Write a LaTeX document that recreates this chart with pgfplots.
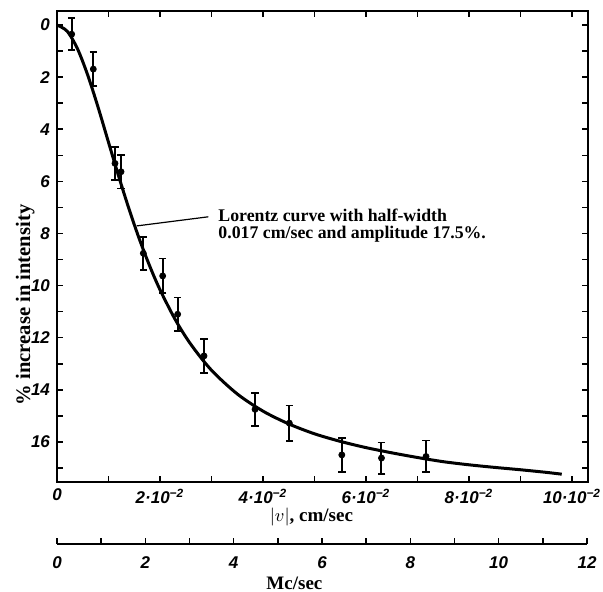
\documentclass[border=0pt]{standalone}
\usepackage{fontspec}
\setmainfont{Liberation Serif}
\newfontfamily\tickfamily{Liberation Sans}
\usepackage{pgfplots}
\pgfplotsset{compat=1.18}

\newcommand{\tickfont}{\tickfamily\bfseries\itshape\fontsize{8.5}{8.5}\selectfont}
\newcommand{\labfont}{\bfseries\fontsize{9.5}{10}\selectfont}
\newcommand{\ylabfont}{\bfseries\fontsize{10.3}{11}\selectfont}
\newcommand{\annfont}{\bfseries\fontsize{8.9}{9}\selectfont}

% Lorentz fit
\pgfplotstableread{
x     y
0.0   0.00
0.2   0.24
0.4   0.92
0.6   1.94
0.8   3.17
1.0   4.50
1.2   5.82
1.4   7.07
1.6   8.22
1.8   9.25
2.0   10.16
2.3   11.32
2.6   12.26
3.0   13.25
3.5   14.16
4.0   14.82
4.5   15.31
5.0   15.69
5.5   15.98
6.0   16.22
6.5   16.42
7.0   16.60
7.5   16.76
8.0   16.88
8.5   16.98
9.0   17.07
9.5   17.17
9.8   17.24
}\fitcurve

% measured points with error bars
\pgfplotstableread{
x      y      e
0.285  0.35   0.62
0.705  1.69   0.65
1.126  5.31   0.64
1.243  5.63   0.64
1.676  8.76   0.64
2.052  9.63   0.67
2.343  11.10  0.64
2.854  12.70  0.65
3.845  14.75  0.63
4.511  15.28  0.68
5.530  16.50  0.65
6.300  16.62  0.60
7.165  16.56  0.61
}\measured

\begin{document}
\begin{tikzpicture}
\useasboundingbox (-28.5pt,-55pt) rectangle (273pt,241pt);

\begin{axis}[
  name=main, at={(0,0)}, anchor=south west,
  scale only axis, width=265.5pt, height=235.5pt,
  xmin=0, xmax=10.31, ymin=-0.54, ymax=17.54,
  y dir=reverse,
  tick align=inside, major tick length=3pt,
  xtick={0,...,10},
  xticklabels={0,,2·10\textsuperscript{−2},,4·10\textsuperscript{−2},,6·10\textsuperscript{−2},,8·10\textsuperscript{−2},,10·10\textsuperscript{−2}},
  ytick={0,...,17},
  yticklabels={0,,2,,4,,6,,8,,10,,12,,14,,16,},
  axis line style={line width=1pt},
  every tick/.style={black, line width=0.8pt},
  tick label style={font=\tickfont},
  xlabel={$|v|$, cm/sec},
  xlabel style={font=\labfont, at={(axis description cs:0.479,-0.074)}, anchor=center},
  ylabel={\% increase in intensity},
  ylabel style={font=\ylabfont, at={(axis description cs:-0.060,0.376)}, anchor=center},
  clip=false,
]
\addplot[black, line width=1.5pt, smooth] table[x=x, y=y] {\fitcurve};
\addplot[black, only marks, mark=*, mark size=1.5pt,
  error bars/.cd, y dir=both, y explicit,
  error mark=|,
  error bar style={line width=1pt},
  error mark options={black, mark size=1.9pt, line width=0.9pt}]
  table[x=x, y=y, y error=e] {\measured};
\draw[line width=0.6pt] (axis cs:1.548,7.71) -- (axis cs:2.938,7.36);
\node[anchor=base west, font=\annfont, inner sep=0pt] at (axis cs:3.126,7.55)
  {Lorentz curve with half-width};
\node[anchor=base west, font=\annfont, inner sep=0pt] at (axis cs:3.126,8.19)
  {0.017 cm/sec and amplitude 17.5\%.};
\end{axis}

\begin{axis}[
  at={(0,-31pt)}, anchor=south west,
  scale only axis, width=265pt, height=10pt,
  xmin=0, xmax=12, ymin=0, ymax=1,
  hide y axis, axis x line*=bottom,
  tick align=inside, major tick length=3pt,
  xtick={0,...,12},
  xticklabels={0,,2,,4,,6,,8,,10,,12},
  axis line style={line width=1pt},
  every tick/.style={black, line width=0.8pt},
  tick label style={font=\tickfont, yshift=-2.7pt},
  xlabel={Mc/sec},
  xlabel style={font=\labfont, at={(axis description cs:0.448,-1.95)}, anchor=center},
]
\addplot[draw=none] coordinates {(0,0)};
\end{axis}
\end{tikzpicture}
\end{document}
